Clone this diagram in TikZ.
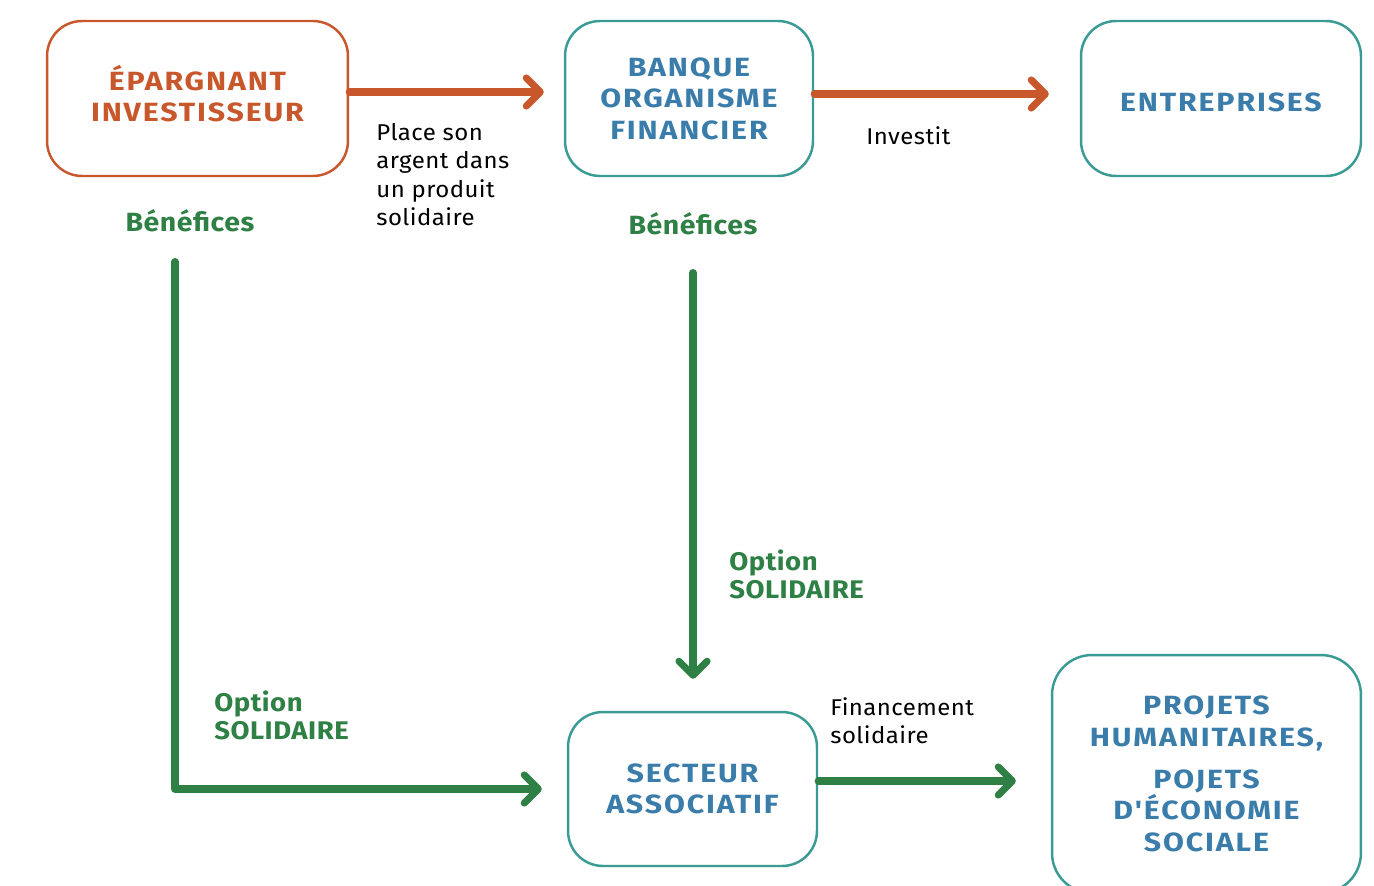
\documentclass[tikz,border=0pt]{standalone}
\usepackage{fontspec}
\setmainfont{Fira Sans}
\newfontfamily\titrefont[FakeStretch=1.15, LetterSpace=7]{Fira Sans}
\newfontfamily\vertfont[FakeStretch=1.08, LetterSpace=2]{Fira Sans}
\newfontfamily\textefont[FakeStretch=1.05, LetterSpace=2]{Fira Sans}
\usetikzlibrary{arrows.meta}
\definecolor{rouille}{HTML}{C8572C}
\definecolor{vertsol}{HTML}{2E8045}
\definecolor{sarcelle}{HTML}{3A9A94}
\definecolor{bleutxt}{HTML}{3A7CAA}

\begin{document}
\begin{tikzpicture}[x=0.02cm, y=-0.02cm,
    acteur/.style={rectangle, rounded corners=0.7cm, draw=sarcelle, line width=1.4pt, text=bleutxt, font=\titrefont\fontsize{15}{18}\selectfont\bfseries, align=center, inner sep=0pt, minimum height=3.1cm},
    flux/.style={line width=4pt, line cap=round, line join=round, -{Straight Barb[length=8pt, width=16pt, round]}},
    legende/.style={font=\textefont\fontsize{13}{16.2}\selectfont, align=left, anchor=north west, inner sep=0pt},
    option/.style={text=vertsol, font=\vertfont\fontsize{14.5}{16}\selectfont\bfseries, align=left, anchor=north west, inner sep=0pt},
    benef/.style={text=vertsol, font=\vertfont\fontsize{15}{18}\selectfont\bfseries, inner sep=0pt}]
    \useasboundingbox (0,0) rectangle (1374,886);
    \clip (0,0) rectangle (1374,886);

    % Acteurs
    \node [acteur, draw=rouille, text=rouille, minimum width=6.02cm, text depth=5.7pt] (eparg) at (197.5,98.5) {ÉPARGNANT\\INVESTISSEUR};
    \node [acteur, minimum width=4.96cm] (banque) at (689,98.5) {BANQUE\\ORGANISME\\FINANCIER};
    \node [acteur, minimum width=5.6cm, text height=15pt] (entreprises) at (1221,98.5) {ENTREPRISES};
    \node [acteur, minimum width=4.98cm, minimum height=3.08cm] (secteur) at (692.5,789) {SECTEUR\\ASSOCIATIF};
    \node [acteur, minimum width=6.18cm, minimum height=4.76cm, rounded corners=0.8cm] (projets) at (1206.5,774) {PROJETS\\HUMANITAIRES,\\[5.7pt]POJETS\\D'ÉCONOMIE\\SOCIALE};

    % Libelles
    \node [benef] (benef1) at (190,221) {Bénéfices};
    \node [benef] (benef2) at (693,224) {Bénéfices};
    \node [legende] (place) at (376,123) {Place son\\argent dans\\un produit\\solidaire};
    \node [legende] (investit) at (866,126) {Investit};
    \node [option] (option1) at (729,549) {Option\\SOLIDAIRE};
    \node [option] (option2) at (214,690) {Option\\SOLIDAIRE};
    \node [legende] (financement) at (830,697) {Financement\\solidaire};

    % Fleches
    \draw[flux, rouille, shorten >=0.4cm] ([yshift=0.13cm]eparg.east) -- ([yshift=0.13cm]banque.west);
    \draw[flux, rouille, shorten >=0.62cm] ([yshift=0.09cm]banque.east) -- ([yshift=0.09cm]entreprises.west);
    \draw[flux, vertsol, shorten <=0.74cm, shorten >=0.64cm] (benef2.south) -- (benef2.south |- secteur.north);
    \draw[flux, vertsol, shorten <=0.58cm, shorten >=0.5cm] ([xshift=-0.3cm]benef1.south) |- (secteur.west);
    \draw[flux, vertsol, shorten >=0.7cm] ([yshift=0.16cm]secteur.east) -- ([yshift=0.16cm]secteur.east -| projets.west);
\end{tikzpicture}
\end{document}
